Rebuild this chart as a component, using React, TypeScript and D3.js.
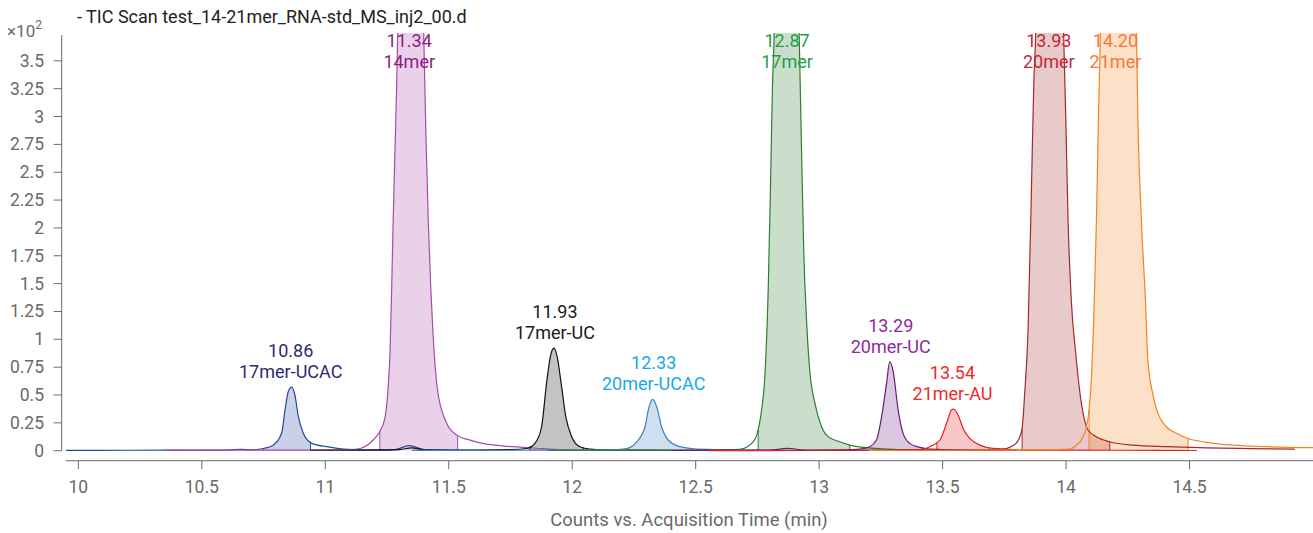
import React from 'react'
import * as d3 from 'd3'

/* page size and the frame of the plot */
const width = 1313
const height = 533
const plot = { left: 66, right: 1313, top: 33, bottom: 450.7 }
const axisY = 460.7
const yAxisX = 61.7

type Pt = [number, number]

/* traces, [time (min), counts x10^2] */
const ucac17: Pt[] = [
    [9.95, 0.003], [10.2, 0.004], [10.4, 0.005], [10.6, 0.006], [10.66, 0.012], [10.7, 0.008],
    [10.749, 0.02], [10.789, 0.05], [10.823, 0.156], [10.837, 0.365], [10.85, 0.53], [10.864, 0.57],
    [10.877, 0.5], [10.891, 0.305], [10.911, 0.156], [10.945, 0.066], [11.006, 0.036], [11.073, 0.015],
    [11.15, 0.008], [11.28, 0.01], [11.34, 0.045], [11.4, 0.01], [11.5, 0.004],
]
const mer14: Pt[] = [
    [10.35, 0.003], [10.6, 0.005], [10.9, 0.006], [11.0, 0.008], [11.1, 0.01], [11.141, 0.02],
    [11.194, 0.096], [11.22, 0.17], [11.242, 0.3], [11.255, 0.58], [11.262, 0.87], [11.269, 1.47],
    [11.275, 2.07], [11.282, 2.67], [11.289, 3.27], [11.292, 3.6], [11.3, 4.6], [11.343, 5.6],
    [11.39, 4.6], [11.4, 3.6], [11.408, 2.8], [11.417, 2.07], [11.427, 1.47], [11.437, 1.02],
    [11.453, 0.57], [11.485, 0.28], [11.532, 0.14], [11.586, 0.095], [11.626, 0.07], [11.707, 0.045],
    [11.856, 0.022], [11.95, 0.01], [12.1, 0.004],
]
const uc17: Pt[] = [
    [10.94, 0.004], [11.2, 0.005], [11.3, 0.01], [11.35, 0.025], [11.4, 0.008], [11.6, 0.006],
    [11.75, 0.01], [11.815, 0.02], [11.849, 0.066], [11.876, 0.215], [11.896, 0.605], [11.913, 0.86],
    [11.926, 0.92], [11.939, 0.845], [11.957, 0.575], [11.974, 0.305], [11.998, 0.126], [12.031, 0.036],
    [12.072, 0.015], [12.2, 0.006], [12.4, 0.004],
]
const ucac20: Pt[] = [
    [11.35, 0.003], [11.7, 0.004], [12.0, 0.005], [12.15, 0.008], [12.22, 0.02], [12.261, 0.08],
    [12.295, 0.215], [12.308, 0.365], [12.326, 0.46], [12.342, 0.395], [12.362, 0.215], [12.389, 0.096],
    [12.436, 0.036], [12.504, 0.015], [12.7, 0.006], [12.9, 0.004],
]
const mer17: Pt[] = [
    [11.9, 0.003], [12.2, 0.004], [12.5, 0.006], [12.62, 0.008], [12.678, 0.013], [12.733, 0.08],
    [12.753, 0.186], [12.767, 0.365], [12.78, 0.66], [12.794, 1.47], [12.803, 2.37], [12.811, 3.27],
    [12.818, 3.75], [12.826, 4.8], [12.868, 5.6], [12.91, 4.8], [12.919, 3.75], [12.929, 2.67],
    [12.938, 1.77], [12.949, 1.17], [12.962, 0.72], [12.983, 0.425], [13.01, 0.215], [13.036, 0.126],
    [13.084, 0.08], [13.124, 0.05], [13.178, 0.03], [13.3, 0.012], [13.5, 0.004],
]
const uc20: Pt[] = [
    [12.4, 0.003], [12.8, 0.005], [12.87, 0.02], [12.95, 0.006], [13.1, 0.008], [13.165, 0.015],
    [13.205, 0.036], [13.232, 0.096], [13.253, 0.305], [13.273, 0.605], [13.286, 0.8], [13.3, 0.71],
    [13.32, 0.365], [13.34, 0.156], [13.367, 0.066], [13.408, 0.03], [13.448, 0.015], [13.6, 0.006],
    [13.8, 0.004],
]
const au21: Pt[] = [
    [12.55, 0.0], [13.0, 0.002], [13.3, 0.004], [13.42, 0.012], [13.448, 0.036], [13.489, 0.096],
    [13.516, 0.246], [13.536, 0.365], [13.545, 0.374], [13.563, 0.32], [13.583, 0.2], [13.61, 0.11],
    [13.651, 0.05], [13.704, 0.02], [13.85, 0.006], [14.2, 0.004], [14.53, 0.002],
]
const mer20: Pt[] = [
    [12.9, 0.003], [13.4, 0.005], [13.65, 0.006], [13.732, 0.01], [13.785, 0.045], [13.808, 0.1],
    [13.822, 0.2], [13.832, 0.5], [13.846, 1.08], [13.86, 2.37], [13.869, 3.27], [13.877, 3.75],
    [13.886, 4.8], [13.934, 5.6], [13.981, 4.8], [13.99, 3.75], [13.999, 2.97], [14.008, 2.07],
    [14.022, 1.32], [14.039, 0.875], [14.062, 0.425], [14.089, 0.186], [14.123, 0.126], [14.177, 0.08],
    [14.271, 0.05], [14.406, 0.036], [14.541, 0.027], [14.926, 0.015],
]
const mer21: Pt[] = [
    [13.2, 0.002], [13.6, 0.004], [13.9, 0.008], [14.015, 0.015], [14.042, 0.05], [14.062, 0.096],
    [14.083, 0.215], [14.093, 0.365], [14.103, 0.66], [14.112, 1.17], [14.123, 2.07], [14.131, 2.97],
    [14.139, 3.75], [14.15, 4.8], [14.209, 5.6], [14.27, 4.8], [14.285, 3.75], [14.291, 2.97],
    [14.305, 2.07], [14.322, 1.32], [14.331, 0.82], [14.35, 0.52], [14.372, 0.335], [14.406, 0.215],
    [14.447, 0.156], [14.494, 0.11], [14.555, 0.08], [14.676, 0.05], [14.811, 0.036], [15.0, 0.027],
]

/* peak annotations and integration windows */
const peakTimes = ['10.86', '11.34', '11.93', '12.33', '12.87', '13.29', '13.54', '13.93', '14.20']
const peakNames = ['17mer-UCAC', '14mer', '17mer-UC', '20mer-UCAC', '17mer', '20mer-UC', '21mer-AU', '20mer', '21mer']
const integrationStart = [10.749, 11.221, 11.829, 12.225, 12.753, 13.165, 13.477, 13.822, 14.093]
const integrationEnd = [10.94, 11.536, 12.045, 12.478, 13.124, 13.42, 13.69, 14.177, 14.494]

const xTicks = [10, 10.5, 11, 11.5, 12, 12.5, 13, 13.5, 14, 14.5]
const yTicks = [0, 0.25, 0.5, 0.75, 1, 1.25, 1.5, 1.75, 2, 2.25, 2.5, 2.75, 3, 3.25, 3.5]

const traces = [ucac17, mer14, uc17, ucac20, mer17, uc20, au21, mer20, mer21]

/* styles */
const strokeColors = ['#2448a0', '#a64ca6', '#111111', '#3f7fc4', '#2e7d32', '#6a1b7a', '#e52222', '#a32a2a', '#f58220']
const labelColors = ['#2e2b6e', '#8a1f7e', '#1a1a1a', '#1aa7ec', '#1e9e4a', '#8e2aa0', '#ee2a2a', '#c0283c', '#f5793a']
const font = 'Roboto, sans-serif'
const grey = '#6a6a6a'

const xScale = d3.scaleLinear().domain([9.95, 15.0]).range([plot.left, plot.right])
const yScale = d3.scaleLinear().domain([0, 3.75]).range([plot.bottom, plot.top])

const line = d3
    .line<Pt>()
    .x((d) => xScale(d[0]))
    .y((d) => yScale(d[1]))
    .curve(d3.curveMonotoneX)

const area = d3
    .area<Pt>()
    .x((d) => xScale(d[0]))
    .y0(yScale(0))
    .y1((d) => yScale(d[1]))
    .curve(d3.curveMonotoneX)

/* value of a trace at time t, for the integration edge lines */
const valueAt = (pts: Pt[], t: number) => {
    const i = d3.bisector((d: Pt) => d[0]).left(pts, t)
    if (i <= 0) return pts[0][1]
    if (i >= pts.length) return pts[pts.length - 1][1]
    const [t0, v0] = pts[i - 1]
    const [t1, v1] = pts[i]
    return v0 + ((v1 - v0) * (t - t0)) / (t1 - t0)
}

const yTickText = (d: number) => d3.format('~g')(d)

export default function App() {
    return (
        <svg width={width} height={height} style={{ position: 'absolute', left: 0, top: 0 }}>
            <defs>
                <clipPath id="plot-clip">
                    <rect x={yAxisX} y={plot.top} width={plot.right - yAxisX} height={plot.bottom - plot.top + 3} />
                </clipPath>
                {traces.map((_, i) => (
                    <clipPath key={i} id={`int-${i}`}>
                        <rect
                            x={xScale(integrationStart[i])}
                            y={plot.top}
                            width={xScale(integrationEnd[i]) - xScale(integrationStart[i])}
                            height={plot.bottom - plot.top}
                        />
                    </clipPath>
                ))}
            </defs>

            {/* title */}
            <text x={77} y={22.5} fontFamily={font} fontSize={18} fill="#222">
                - TIC Scan test_14-21mer_RNA-std_MS_inj2_00.d
            </text>
            <text x={7} y={37} fontFamily={font} fontSize={17} fill={grey}>
                ×10<tspan fontSize={12} dy={-8}>2</tspan>
            </text>

            {/* integrated areas */}
            <g clipPath="url(#plot-clip)">
                {traces.map((pts, i) => (
                    <g key={i} clipPath={`url(#int-${i})`}>
                        <path d={area(pts) || ''} fill={strokeColors[i]} fillOpacity={0.25} />
                    </g>
                ))}
                {traces.map((pts, i) =>
                    [integrationStart[i], integrationEnd[i]].map((t, j) => (
                        <line
                            key={`${i}-${j}`}
                            x1={xScale(t)}
                            x2={xScale(t)}
                            y1={yScale(0)}
                            y2={yScale(valueAt(pts, t))}
                            stroke={strokeColors[i]}
                            strokeWidth={1}
                        />
                    ))
                )}
                {/* traces */}
                {traces.map((pts, i) => (
                    <path key={i} d={line(pts) || ''} fill="none" stroke={strokeColors[i]} strokeWidth={1.2} />
                ))}
            </g>

            {/* peak labels */}
            {traces.map((pts, i) => {
                const top = d3.max(pts, (d) => d[1]) as number
                const xPeak = xScale(parseFloat(peakTimes[i]))
                const y2 = Math.max(yScale(top) - 9, 68)
                return (
                    <g key={i} fontFamily={font} fontSize={18} fill={labelColors[i]} textAnchor="middle">
                        <text x={xPeak} y={y2 - 21}>{peakTimes[i]}</text>
                        <text x={xPeak} y={y2}>{peakNames[i]}</text>
                    </g>
                )
            })}

            {/* y axis */}
            <line x1={yAxisX} x2={yAxisX} y1={35} y2={yScale(0)} stroke={grey} strokeWidth={1} />
            {yTicks.map((d) => (
                <g key={d}>
                    <line x1={yAxisX - 8} x2={yAxisX} y1={yScale(d)} y2={yScale(d)} stroke={grey} strokeWidth={1} />
                    <text x={44} y={yScale(d) + 6} textAnchor="end" fontFamily={font} fontSize={17.5} fill={grey}>
                        {yTickText(d)}
                    </text>
                </g>
            ))}

            {/* x axis */}
            <line x1={plot.left} x2={plot.right} y1={axisY} y2={axisY} stroke={grey} strokeWidth={1} />
            {xTicks.map((d) => (
                <g key={d}>
                    <line x1={xScale(d)} x2={xScale(d)} y1={axisY} y2={axisY + 8.5} stroke={grey} strokeWidth={1} />
                    <text x={xScale(d)} y={493} textAnchor="middle" fontFamily={font} fontSize={17.5} fill={grey}>
                        {d}
                    </text>
                </g>
            ))}
            <text x={689} y={526} textAnchor="middle" fontFamily={font} fontSize={18.5} fill={grey}>
                Counts vs. Acquisition Time (min)
            </text>
        </svg>
    )
}
